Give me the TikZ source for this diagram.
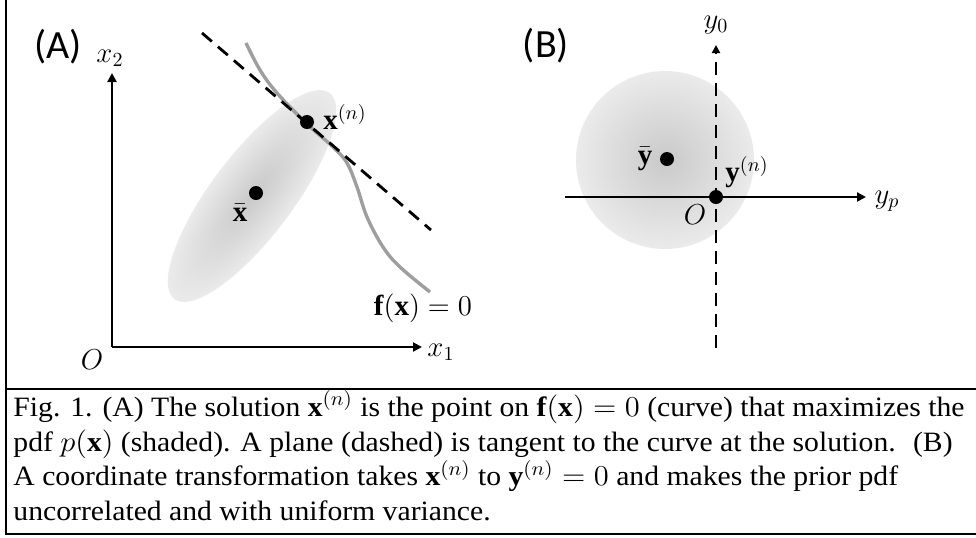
\documentclass[tikz,border=0pt]{standalone}
\usepackage{amsmath,amssymb}
\usepackage{fontspec}
\setmainfont{Liberation Serif}
\newfontfamily\panelfont{Carlito}
\usetikzlibrary{arrows.meta}

\begin{document}
\begin{tikzpicture}[x=0.5pt,y=0.5pt,
  axis/.style={line width=1.25pt,-{Triangle[length=4.5pt,width=4.5pt]}},
  dashline/.style={line width=1.4pt,dash pattern=on 6.5pt off 4pt},
  dot/.style={circle,fill=black,inner sep=0pt,minimum size=7pt},
  lbl/.style={font=\fontsize{14.5}{16}\selectfont},
  panel/.style={font=\panelfont\fontsize{20}{24}\selectfont},
  capline/.style={anchor=base west,inner sep=0pt,font=\fontsize{14}{15}\selectfont},
  pdf/.style={inner color=black!21,outer color=black!8}]
\useasboundingbox (0,0) rectangle (976,-537);
\draw[line width=1pt] (6,0) -- (6,-534) -- (976,-534);
\draw[line width=1pt] (6,-389) -- (976,-389);
% (A)
\begin{scope}[transform canvas={shift={(252,-196)},rotate=53}]
\shade[pdf] (0,0) ellipse [x radius=129,y radius=41];
\end{scope}
\coordinate (Oa) at (112,-347);
\coordinate (x2end) at (112,-73);
\coordinate (x1end) at (422,-347);
\coordinate (tanA) at (202,-33);
\coordinate (tanB) at (431,-230);
\draw[axis] (Oa) -- (x2end);
\draw[axis] (Oa) -- (x1end);
\draw[black!38,line width=1.7pt] plot[smooth,tension=0.6] coordinates {(246,-43) (260,-70) (277,-93) (306,-123) (333,-147) (347,-163) (357,-187) (367,-217) (383,-247) (400,-267) (430,-292)};
\draw[dashline] (tanA) -- (tanB);
\node[dot] (xbar) at (256,-193) {};
\node[dot] (xn) at (307,-122) {};
\node[panel] (panA) at (58,-47) {(A)};
\node[lbl] (lx2) at (110,-58) {$x_2$};
\node[lbl] (lx1) at (441,-352) {$x_1$};
\node[lbl] (lOa) at (92,-360) {$O$};
\node[lbl] (lxn) at (345,-117) {$\mathbf{x}^{(n)}$};
\node[lbl] (lxbar) at (240,-213) {$\bar{\mathbf{x}}$};
\node[lbl] (lf) at (423,-308) {$\mathbf{f}(\mathbf{x})=0$};
% (B)
\shade[pdf] (665,-160) circle [radius=89];
\coordinate (ypstart) at (565,-197);
\coordinate (ypend) at (866,-197);
\coordinate (y0start) at (716,-348);
\coordinate (y0end) at (716,-45);
\draw[axis] (ypstart) -- (ypend);
\draw[axis,dashline,-{Triangle[length=4pt,width=4pt]}] (y0start) -- (y0end);
\node[dot] (ybar) at (667,-159) {};
\node[dot] (yn) at (716,-197) {};
\node[panel] (panB) at (546,-46) {(B)};
\node[lbl] (ly0) at (716,-25) {$y_0$};
\node[lbl] (lyp) at (887,-201) {$y_p$};
\node[lbl] (lybar) at (645,-159) {$\bar{\mathbf{y}}$};
\node[lbl] (lyn) at (747,-172) {$\mathbf{y}^{(n)}$};
\node[lbl] (lOb) at (695,-215) {$O$};
% caption
\begin{scope}[xscale=1.06]
\node[capline,transform shape] (cap1) at (12.3,-416) {Fig. 1. (A) The solution $\mathbf{x}^{(n)}$ is the point on $\mathbf{f}(\mathbf{x})=0$ (curve) that maximizes the};
\node[capline,transform shape] (cap2) at (12.3,-451) {pdf $p(\mathbf{x})$ (shaded). A plane (dashed) is tangent to the curve at the solution.~ (B)};
\node[capline,transform shape] (cap3) at (12.3,-485.5) {A coordinate transformation takes $\mathbf{x}^{(n)}$ to $\mathbf{y}^{(n)}=0$ and makes the prior pdf};
\node[capline,transform shape] (cap4) at (12.3,-520) {uncorrelated and with uniform variance.};
\end{scope}
\end{tikzpicture}
\end{document}
